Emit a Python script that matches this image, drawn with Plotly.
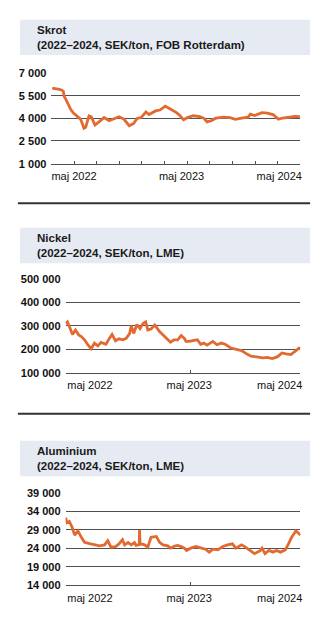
import plotly.graph_objects as go

# ---------------- data ----------------
skrot_dates = ["2022-02-04","2022-02-20","2022-03-05","2022-03-15","2022-03-18","2022-03-23","2022-03-29",
               "2022-04-10","2022-04-20","2022-04-28","2022-05-15","2022-05-22","2022-05-27","2022-06-02",
               "2022-06-14","2022-06-22","2022-07-05","2022-07-19","2022-08-06","2022-08-24","2022-09-08",
               "2022-09-28","2022-10-15","2022-11-03","2022-11-18","2022-12-01","2022-12-15","2023-01-01",
               "2023-01-12","2023-02-04","2023-02-20","2023-03-10","2023-03-25","2023-04-19","2023-04-30",
               "2023-05-14","2023-05-28","2023-06-18","2023-07-10","2023-07-25","2023-08-05","2023-08-20",
               "2023-09-05","2023-10-03","2023-10-25","2023-11-13","2023-12-05","2023-12-28","2024-01-05",
               "2024-01-20","2024-02-15","2024-03-05","2024-03-25","2024-04-13","2024-04-28","2024-05-19",
               "2024-06-10","2024-06-28"]
skrot_values = [6000,5950,5900,5800,5450,5300,5070,4600,4350,4200,3950,3600,3340,3400,4160,4100,3560,3770,
                4050,3840,3950,4100,3950,3510,3650,3990,4050,4420,4250,4490,4550,4810,4650,4380,4200,3900,
                4050,4170,4120,4000,3770,3850,4010,4080,4050,3930,4010,4080,4270,4180,4380,4350,4250,3945,
                4020,4080,4120,4110]

nickel_dates = ["2022-02-01","2022-02-08","2022-02-18","2022-02-27","2022-03-10","2022-03-22","2022-04-01",
                "2022-04-13","2022-04-25","2022-05-08","2022-05-20","2022-06-02","2022-06-14","2022-07-02",
                "2022-07-15","2022-07-25","2022-08-07","2022-08-20","2022-09-04","2022-09-16","2022-09-29",
                "2022-10-05","2022-10-14","2022-10-26","2022-11-07","2022-11-18","2022-11-28","2022-12-06",
                "2022-12-18","2023-01-01","2023-01-19","2023-02-07","2023-02-19","2023-03-01","2023-03-14",
                "2023-03-28","2023-04-10","2023-04-22","2023-04-28","2023-05-10","2023-05-28","2023-06-10",
                "2023-06-22","2023-07-04","2023-07-16","2023-08-07","2023-08-22","2023-09-07","2023-09-22",
                "2023-10-13","2023-11-07","2023-11-22","2023-12-16","2023-12-28","2024-01-18","2024-02-10",
                "2024-02-27","2024-03-16","2024-04-04","2024-04-22","2024-05-07","2024-05-25","2024-06-13",
                "2024-06-25","2024-06-30"]
nickel_values = [310000,317000,289000,264000,283000,262000,255000,241000,220000,203000,227000,215000,230000,
                 222000,247000,264000,237000,245000,241000,247000,268000,301000,268000,306000,289000,310000,
                 317000,283000,287000,304000,276000,255000,241000,231000,241000,241000,259000,247000,234000,
                 234000,238000,241000,222000,227000,218000,234000,220000,227000,222000,206000,199000,195000,
                 178000,171000,168000,164000,166000,161000,168000,185000,181000,178000,195000,206000,204000]

alu_dates = ["2022-02-01","2022-02-06","2022-02-15","2022-02-25","2022-03-07","2022-03-19","2022-04-01",
             "2022-04-13","2022-05-02","2022-05-20","2022-06-08","2022-06-27","2022-07-09","2022-07-21",
             "2022-08-07","2022-08-20","2022-09-02","2022-09-10","2022-09-23","2022-10-05","2022-10-17",
             "2022-10-23","2022-11-04","2022-11-05","2022-11-07","2022-11-24","2022-12-06","2022-12-18",
             "2023-01-07","2023-01-19","2023-02-01","2023-02-19","2023-03-01","2023-03-16","2023-03-28",
             "2023-04-10","2023-04-22","2023-04-30","2023-05-16","2023-06-04","2023-06-22","2023-07-10",
             "2023-07-24","2023-08-07","2023-08-25","2023-09-13","2023-10-01","2023-10-19","2023-11-01",
             "2023-11-22","2023-12-04","2023-12-22","2024-01-10","2024-02-01","2024-02-07","2024-02-18",
             "2024-03-04","2024-03-19","2024-04-01","2024-04-16","2024-05-04","2024-05-16","2024-05-28",
             "2024-06-13","2024-06-25","2024-06-30"]
alu_values = [32300,30950,31300,29800,27600,28750,27000,25650,25300,24960,24700,24960,26100,24330,24500,
              25200,26370,24960,25600,24960,25600,24800,25000,28950,25300,24960,24330,27000,27240,25650,
              24960,24700,24070,24600,24800,24500,24070,23450,24070,24510,24070,23800,23000,23800,23600,
              24510,24960,25230,24070,24960,24500,23450,22580,23450,24070,22580,23450,23000,23450,23000,
              23600,25230,27000,28750,27880,27600]

titles = ["Skrot<br>(2022–2024, SEK/ton, FOB Rotterdam)",
          "Nickel<br>(2022–2024, SEK/ton, LME)",
          "Aluminium<br>(2022–2024, SEK/ton, LME)"]

skrot_ticks = [1000, 2500, 4000, 5500, 7000]
nickel_ticks = [100000, 200000, 300000, 400000, 500000]
alu_ticks = [14000, 19000, 24000, 29000, 34000, 39000]

x_labels = ["maj 2022", "maj 2023", "maj 2024"]
x_label_pos_1 = ["2022-04-22", "2023-05-07", "2024-04-16"]
x_label_pos_23 = ["2022-05-03", "2023-05-10", "2024-04-13"]
x_range = ["2022-02-01", "2024-06-30"]


def fmt(v):
    return f"{v:,}".replace(",", " ")


# ---------------- style ----------------
W, H = 330, 631
LINE = "#e2692f"
GRID = "#505050"
BOX = "#e6eaf2"
FONT = "Liberation Sans"


def px(x):
    return x / W


def py(y):
    return 1 - y / H


fig = go.Figure()
series = [(skrot_dates, skrot_values), (nickel_dates, nickel_values), (alu_dates, alu_values)]
for i, (d, v) in enumerate(series):
    fig.add_trace(go.Scatter(x=d, y=v, mode="lines",
                             line=dict(color=LINE, width=2.8),
                             xaxis="x" if i == 0 else f"x{i+1}",
                             yaxis="y" if i == 0 else f"y{i+1}",
                             hoverinfo="skip", showlegend=False))

# empty traces for tick overlay axes
for k in (4, 5, 6):
    fig.add_trace(go.Scatter(x=[], y=[], xaxis=f"x{k}", yaxis="y" if k == 4 else f"y{k-3}",
                             showlegend=False))

panels = [
    dict(xd=[px(51.7), px(302.3)], yd=[py(160.7), py(68.3)], rng=[1000, 7000], ticks=skrot_ticks,
         lab=x_label_pos_1),
    dict(xd=[px(66), px(302.3)], yd=[py(374), py(278.3)], rng=[100000, 500000], ticks=nickel_ticks,
         lab=x_label_pos_23),
    dict(xd=[px(66), px(302.3)], yd=[py(590.7), py(496.3)], rng=[14000, 39000], ticks=alu_ticks,
         lab=x_label_pos_23),
]

layout = dict(width=W, height=H, margin=dict(l=0, r=0, t=0, b=0),
              paper_bgcolor="white", plot_bgcolor="white", showlegend=False)

for i, p in enumerate(panels):
    xs = "xaxis" if i == 0 else f"xaxis{i+1}"
    ys = "yaxis" if i == 0 else f"yaxis{i+1}"
    yname = "y" if i == 0 else f"y{i+1}"
    xname = "x" if i == 0 else f"x{i+1}"
    layout[xs] = dict(domain=p["xd"], anchor=yname, type="date", range=x_range,
                      tickvals=p["lab"], ticktext=x_labels, ticks="", showgrid=False,
                      showline=True, linecolor=GRID, linewidth=1, zeroline=False,
                      tickfont=dict(family=FONT, size=11, color="#111111"), ticklabelstandoff=2)
    layout[ys] = dict(domain=p["yd"], anchor=xname, range=p["rng"], tickvals=p["ticks"],
                      ticktext=[fmt(t) for t in p["ticks"]], showgrid=True, gridcolor=GRID,
                      gridwidth=1, zeroline=False, showline=False, ticks="",
                      tickfont=dict(family=FONT, size=11, color="#111111", weight="bold"),
                      ticklabelstandoff=4)

# tick-mark overlay axes
layout["xaxis4"] = dict(overlaying="x", anchor="y", range=[0, 11], tickvals=list(range(12)),
                        ticks="inside", ticklen=3, tickcolor=GRID, tickwidth=1,
                        showticklabels=False, showgrid=False, showline=False, zeroline=False)
for k, base, yname in ((5, "x2", "y2"), (6, "x3", "y3")):
    layout[f"xaxis{k}"] = dict(overlaying=base, anchor=yname, range=[0, 1], tickvals=[0, 0.533, 1],
                               ticks="inside", ticklen=3, tickcolor=GRID, tickwidth=1,
                               showticklabels=False, showgrid=False, showline=False, zeroline=False)

fig.update_layout(**layout)

# title boxes
boxes = [(14, 50), (226, 262.3), (443.3, 479.3)]
shapes = []
for (y0, y1) in boxes:
    shapes.append(dict(type="rect", xref="paper", yref="paper", x0=px(20), x1=px(312),
                       y0=py(y1), y1=py(y0), fillcolor=BOX, line=dict(width=0), layer="below"))
for ys in (201, 415.7):
    shapes.append(dict(type="line", xref="paper", yref="paper", x0=px(18), x1=px(312),
                       y0=py(ys), y1=py(ys), line=dict(color="#333333", width=2)))
fig.update_layout(shapes=shapes)

for (y0, y1), t in zip(boxes, titles):
    fig.add_annotation(xref="paper", yref="paper", x=px(35), y=py((y0 + y1) / 2), text=t,
                       showarrow=False, xanchor="left", yanchor="middle", align="left",
                       font=dict(family=FONT, size=11.5, color="#1a1a1a", weight="bold"))

fig.write_html("out.html")
